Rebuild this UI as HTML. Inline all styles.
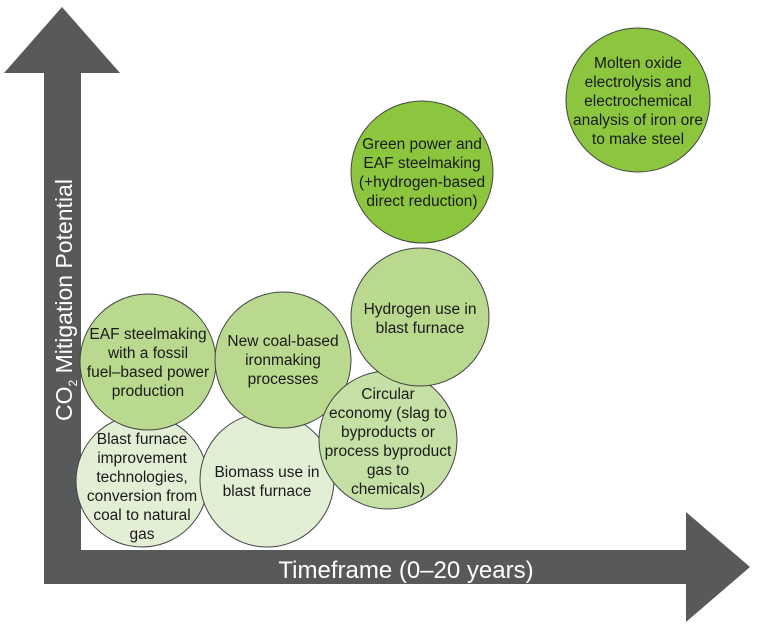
<!DOCTYPE html>
<html><head><meta charset="utf-8"><style>
body{margin:0;background:#fff}
svg{display:block}
text{font-family:"Liberation Sans",Arial,sans-serif;font-size:15.5px;fill:#1a1a1a;text-anchor:middle}
circle{stroke:#444;stroke-width:1}
</style></head><body>
<svg width="758" height="633" viewBox="0 0 758 633">
<polygon points="62,7 120,73 81,73 81,550 686,550 686,512 750,567 686,622 686,584 44,584 44,73 4,73" fill="#58595b"/>
<text x="406" y="578" style="font-size:24px;fill:#fff">Timeframe (0–20 years)</text>
<text transform="translate(72,300) rotate(-90)" style="font-size:23px;fill:#fff">CO<tspan dy="5" style="font-size:12px">2</tspan><tspan dy="-5"> Mitigation Potential</tspan></text>

<circle cx="142" cy="481" r="66" fill="#e2efd5"/>
<circle cx="267" cy="480" r="67" fill="#e2efd5"/>
<circle cx="148" cy="362" r="68" fill="#b9d98e"/>
<circle cx="283" cy="360" r="68" fill="#b9d98e"/>
<circle cx="388" cy="440" r="69" fill="#c5e0a5"/>
<circle cx="420" cy="317" r="69" fill="#b9d98e"/>
<circle cx="422" cy="172" r="71" fill="#8cc63f"/>
<circle cx="638" cy="100" r="72" fill="#8cc63f"/>

<text x="142" y="444">Blast furnace</text>
<text x="142" y="463">improvement</text>
<text x="142" y="482">technologies,</text>
<text x="142" y="501">conversion from</text>
<text x="142" y="520">coal to natural</text>
<text x="142" y="539">gas</text>

<text x="267" y="477">Biomass use in</text>
<text x="267" y="496">blast furnace</text>

<text x="148" y="339">EAF steelmaking</text>
<text x="148" y="358">with a fossil</text>
<text x="148" y="377">fuel–based power</text>
<text x="148" y="396">production</text>

<text x="283" y="346">New coal-based</text>
<text x="283" y="365">ironmaking</text>
<text x="283" y="384">processes</text>

<text x="388" y="399">Circular</text>
<text x="388" y="418">economy (slag to</text>
<text x="388" y="437">byproducts or</text>
<text x="388" y="456">process byproduct</text>
<text x="388" y="475">gas to</text>
<text x="388" y="494">chemicals)</text>

<text x="420" y="314">Hydrogen use in</text>
<text x="420" y="333">blast furnace</text>

<text x="422" y="149">Green power and</text>
<text x="422" y="168">EAF steelmaking</text>
<text x="422" y="187">(+hydrogen-based</text>
<text x="422" y="206">direct reduction)</text>

<text x="638" y="68">Molten oxide</text>
<text x="638" y="87">electrolysis and</text>
<text x="638" y="106">electrochemical</text>
<text x="638" y="125">analysis of iron ore</text>
<text x="638" y="144">to make steel</text>
</svg>
</body></html>
